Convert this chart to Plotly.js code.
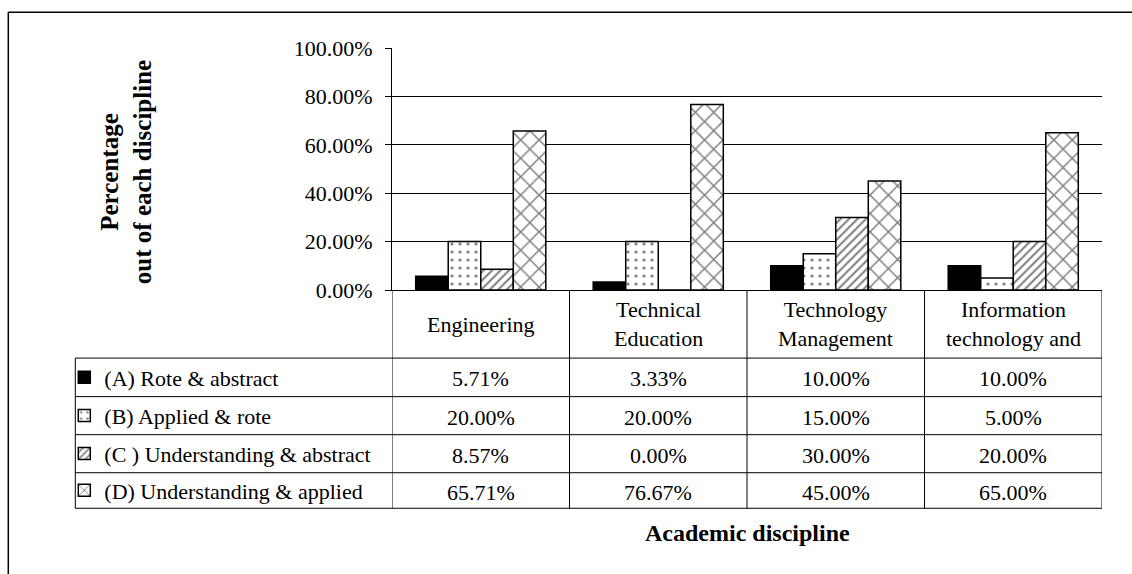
<!DOCTYPE html>
<html>
<head>
<meta charset="utf-8">
<script src="https://cdn.plot.ly/plotly-3.0.1.min.js"></script>
<style>html,body{margin:0;padding:0;background:#fff;}#chart{width:1132px;height:574px;}</style>
</head>
<body>
<div id="chart"></div>
<script>
// ---- data ----
const categories = ['Engineering', 'Technical Education', 'Technology Management', 'Information technology and'];
const headerLabels = ['Engineering', 'Technical<br>Education', 'Technology<br>Management', 'Information<br>technology and'];
const seriesNames = ['(A) Rote & abstract', '(B) Applied & rote', '(C ) Understanding & abstract', '(D) Understanding & applied'];
const rote_abstract = [0.0571, 0.0333, 0.10, 0.10];
const applied_rote = [0.20, 0.20, 0.15, 0.05];
const understanding_abstract = [0.0857, 0.0, 0.30, 0.20];
const understanding_applied = [0.6571, 0.7667, 0.45, 0.65];
const seriesValues = [rote_abstract, applied_rote, understanding_abstract, understanding_applied];
const yTickVals = [0, 0.2, 0.4, 0.6, 0.8, 1.0];

// ---- geometry (pixels) ----
const W = 1132, H = 574;
const PL = 391.7, PR = 1101.7, PT = 48.3, PB = 290;
const px2x = p => (p - PL) / (PR - PL);
const py2y = p => (PB - p) / (PB - PT);
const FONT = 'Liberation Serif';
const FS = 22;

const patterns = [
  {shape: '', solidity: 1},
  {shape: '.', size: 8, solidity: 0.12},
  {shape: '/', size: 6, solidity: 0.35},
  {shape: 'x', size: 13, solidity: 0.22}
];
const fillColors = ['black', 'white', 'white', 'white'];

const legendKeys = ['legend', 'legend2', 'legend3', 'legend4'];
const rowEdges = [358, 396.5, 434.5, 472.5, 508];

const traces = seriesNames.map((name, i) => ({
  type: 'bar',
  name: name,
  x: categories,
  y: seriesValues[i],
  legend: legendKeys[i],
  marker: {
    color: fillColors[i],
    line: {color: 'black', width: 1.5},
    pattern: i === 0 ? undefined : Object.assign({fgcolor: 'black', bgcolor: 'white', fillmode: 'overlay'}, patterns[i])
  },
  hoverinfo: 'skip'
}));

const shapes = [];
// outer border (top & left visible)
shapes.push({type: 'line', xref: 'paper', yref: 'paper', x0: px2x(8), x1: px2x(1140), y0: py2y(12.7), y1: py2y(12.7), line: {color: 'black', width: 1.5}});
shapes.push({type: 'line', xref: 'paper', yref: 'paper', x0: px2x(8), x1: px2x(8), y0: py2y(12.7), y1: py2y(590), line: {color: 'black', width: 1.5}});
// table horizontal lines
rowEdges.forEach(r => shapes.push({type: 'line', xref: 'paper', yref: 'paper', x0: px2x(75), x1: 1, y0: py2y(r), y1: py2y(r), line: {color: 'black', width: 1}}));
// left edge of label column
shapes.push({type: 'line', xref: 'paper', yref: 'paper', x0: px2x(75), x1: px2x(75), y0: py2y(rowEdges[0]), y1: py2y(rowEdges[4]), line: {color: 'black', width: 1}});
// column boundaries
for (let k = 0; k <= categories.length; k++) {
  shapes.push({type: 'line', xref: 'x', yref: 'paper', x0: k - 0.5, x1: k - 0.5, y0: 0, y1: py2y(rowEdges[4]), line: {color: 'black', width: 1}});
}

const annotations = [];
headerLabels.forEach((h, j) => annotations.push({
  xref: 'x', yref: 'paper', x: j, y: py2y((PB + rowEdges[0]) / 2), text: h, showarrow: false,
  font: {family: FONT, size: FS, color: 'black'}, xanchor: 'center', yanchor: 'middle'
}));
seriesValues.forEach((vals, i) => vals.forEach((v, j) => annotations.push({
  xref: 'x', yref: 'paper', x: j, y: py2y((rowEdges[i] + rowEdges[i + 1]) / 2 + 1.5), text: (v * 100).toFixed(2) + '%', showarrow: false,
  font: {family: FONT, size: FS, color: 'black'}, xanchor: 'center', yanchor: 'middle'
})));
// y axis title
annotations.push({
  xref: 'paper', yref: 'paper', x: px2x(126), y: py2y(172), text: '<b>Percentage<br>out of each discipline</b>', textangle: -90,
  showarrow: false, font: {family: FONT, size: 25, color: 'black'}, xanchor: 'center', yanchor: 'middle'
});
// x axis title
annotations.push({
  xref: 'paper', yref: 'paper', x: px2x(747), y: py2y(533), text: '<b>Academic discipline</b>',
  showarrow: false, font: {family: FONT, size: 24, color: 'black'}, xanchor: 'center', yanchor: 'middle'
});

const layout = {
  width: W, height: H,
  margin: {l: PL, r: W - PR, t: PT, b: H - PB, pad: 0},
  paper_bgcolor: 'white', plot_bgcolor: 'white',
  font: {family: FONT, size: FS, color: 'black'},
  barmode: 'group', bargap: 0.267, bargroupgap: 0,
  xaxis: {type: 'category', categoryarray: categories, showticklabels: false, ticks: '', showgrid: false, zeroline: false,
          showline: true, linecolor: 'black', linewidth: 1, range: [-0.5, 3.5], fixedrange: true},
  yaxis: {range: [0, 1], tickvals: yTickVals, tickformat: '.2%', ticks: 'outside', ticklen: 6, tickcolor: 'black', tickwidth: 1,
          showgrid: true, gridcolor: 'black', gridwidth: 1, zeroline: false, showline: true, linecolor: 'black', linewidth: 1,
          ticklabelstandoff: 8, tickfont: {family: FONT, size: FS, color: 'black'}, fixedrange: true},
  shapes: shapes,
  annotations: annotations,
  showlegend: true
};
legendKeys.forEach((k, i) => {
  layout[k] = {
    x: px2x(64), xanchor: 'left', xref: 'paper',
    y: py2y((rowEdges[i] + rowEdges[i + 1]) / 2), yanchor: 'middle', yref: 'paper',
    bgcolor: 'rgba(0,0,0,0)', borderwidth: 0,
    font: {family: FONT, size: FS, color: 'black'}
  };
});

Plotly.newPlot('chart', traces, layout, {displayModeBar: false, staticPlot: true});
</script>
</body>
</html>
